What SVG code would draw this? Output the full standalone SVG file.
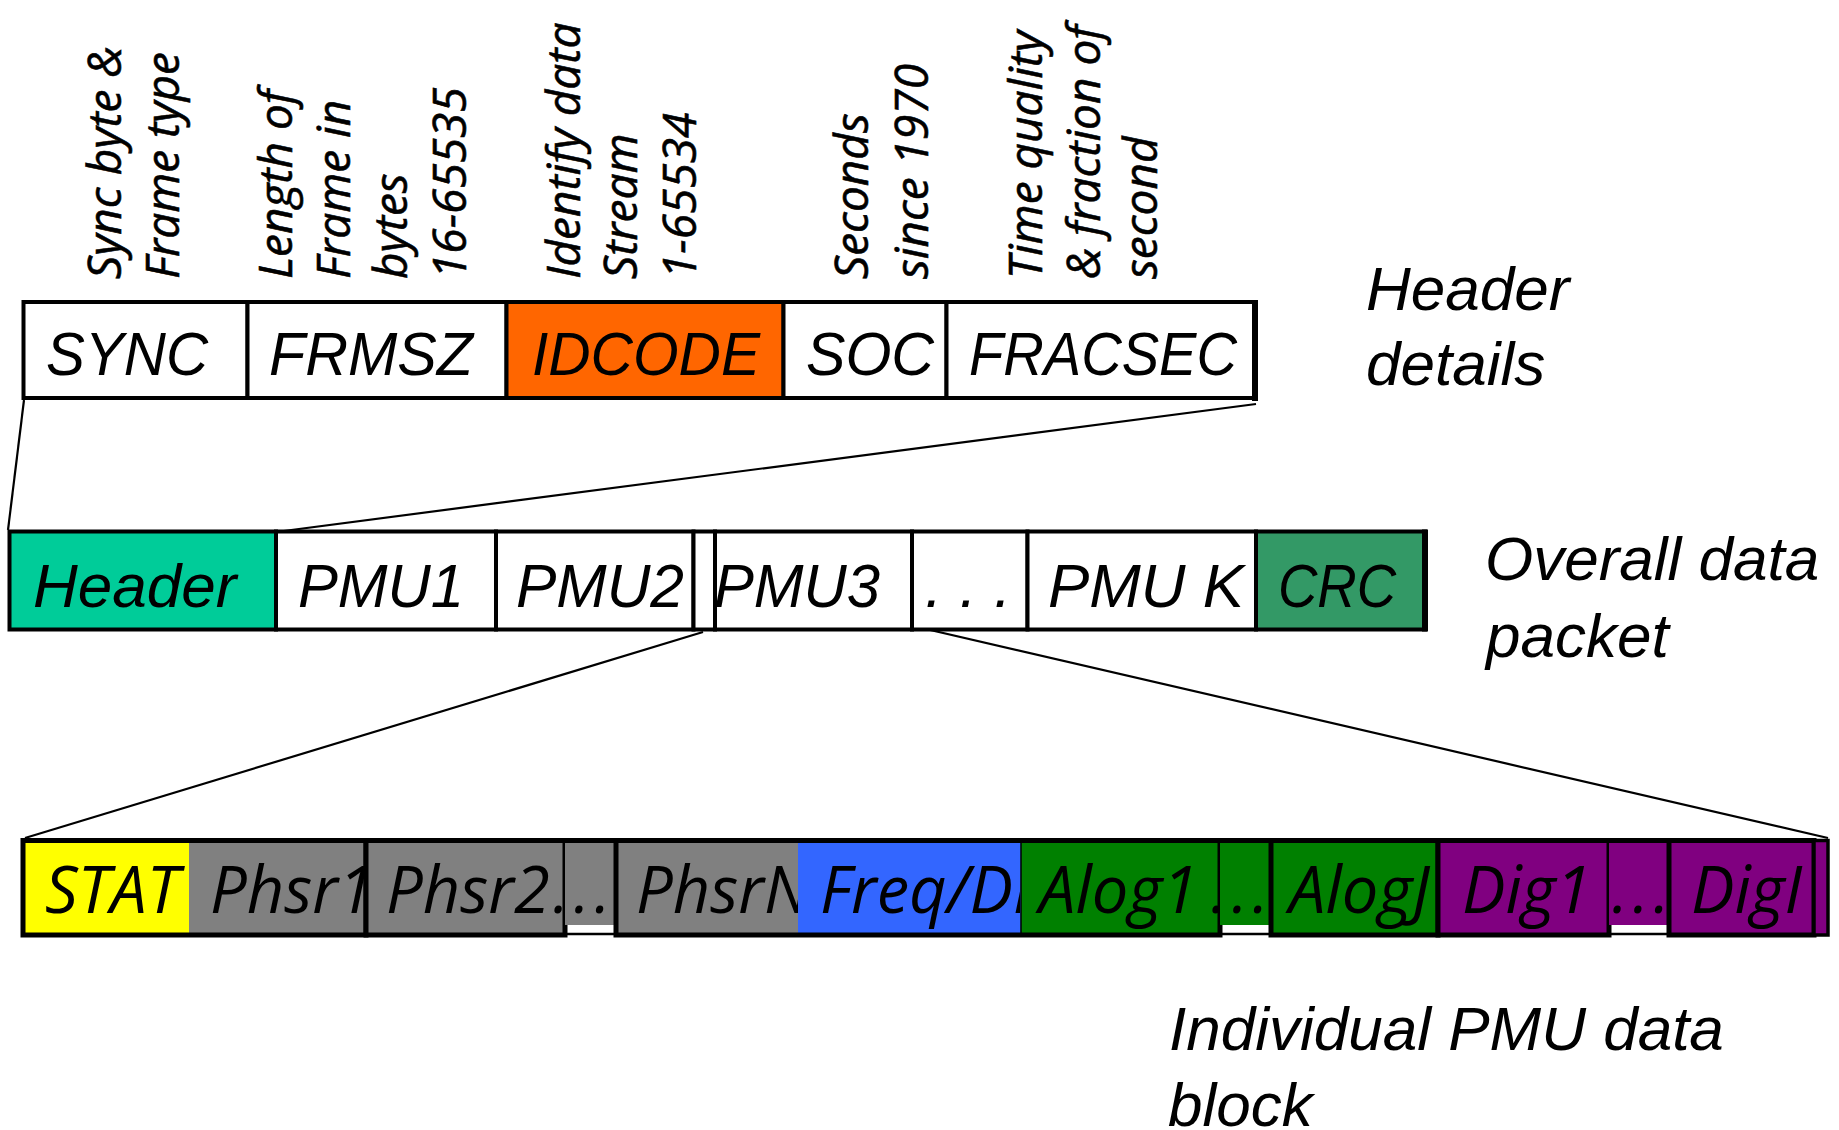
<svg xmlns="http://www.w3.org/2000/svg" width="1839" height="1130" viewBox="0 0 1839 1130">
<defs>
<style>
.lbl{font-family:"Liberation Sans",Arial,sans-serif;font-style:italic;font-size:62px;fill:#000}
.rot{font-family:"Open Sans","DejaVu Sans",sans-serif;font-style:italic;font-size:46px;fill:#000;stroke:#000;stroke-width:0.6px}
.cell{font-family:"Open Sans","DejaVu Sans",sans-serif;font-style:italic;font-size:65px;fill:#000}
.dots{font-family:"Open Sans","DejaVu Sans",sans-serif;font-style:italic;font-size:63px;fill:#000;letter-spacing:5px}
.box{stroke:#000;stroke-width:4}
.frame{stroke:#000;stroke-width:5}
.conn{stroke:#000;stroke-width:2.2;fill:none}
</style>
<clipPath id="cpPhsr1"><rect x="188" y="843" width="176" height="90"/></clipPath>
<clipPath id="cpPhsrN"><rect x="616" y="843" width="182" height="90"/></clipPath>
<clipPath id="cpFreq"><rect x="798" y="843" width="222" height="90"/></clipPath>
<clipPath id="cpAlogJ"><rect x="1271" y="843" width="166" height="90"/></clipPath>
<clipPath id="cpDigI"><rect x="1669" y="843" width="144" height="90"/></clipPath>
</defs>
<rect x="0" y="0" width="1839" height="1130" fill="#fff"/>

<!-- rotated descriptions -->
<g id="desc-sync">
<text class="rot" transform="translate(120.5,279) rotate(-90)">Sync byte &amp;</text>
<text class="rot" transform="translate(178.6,279) rotate(-90)">Frame type</text>
</g>
<g id="desc-frmsz">
<text class="rot" transform="translate(292,279) rotate(-90)">Length of</text>
<text class="rot" transform="translate(350,279) rotate(-90)">Frame in</text>
<text class="rot" transform="translate(407,279) rotate(-90)">bytes</text>
<text class="rot" transform="translate(466,279) rotate(-90)">16-65535</text>
</g>
<g id="desc-idcode">
<text class="rot" transform="translate(580,279) rotate(-90)">Identify data</text>
<text class="rot" transform="translate(637,279) rotate(-90)">Stream</text>
<text class="rot" transform="translate(696,279) rotate(-90)">1-65534</text>
</g>
<g id="desc-soc">
<text class="rot" transform="translate(868,279) rotate(-90)">Seconds</text>
<text class="rot" transform="translate(928,279) rotate(-90)">since 1970</text>
</g>
<g id="desc-fracsec">
<text class="rot" transform="translate(1042,279) rotate(-90)">Time quality</text>
<text class="rot" transform="translate(1100,279) rotate(-90)">&amp; fraction of</text>
<text class="rot" transform="translate(1157,279) rotate(-90)">second</text>
</g>

<!-- connectors -->
<g id="connectors">
<line class="conn" x1="24" y1="400" x2="8" y2="530"/>
<line class="conn" x1="1256" y1="404" x2="276" y2="532"/>
<line class="conn" x1="703" y1="632" x2="25" y2="838"/>
<line class="conn" x1="913" y1="626" x2="1828" y2="838"/>
</g>

<!-- header details row -->
<g id="sync"><rect class="box" x="23.5" y="302" width="224" height="96" fill="#fff"/><text class="lbl" x="46" y="375" textLength="162" lengthAdjust="spacingAndGlyphs">SYNC</text></g>
<g id="frmsz"><rect class="box" x="247.5" y="302" width="259" height="96" fill="#fff"/><text class="lbl" x="269" y="375" textLength="204" lengthAdjust="spacingAndGlyphs">FRMSZ</text></g>
<g id="idcode"><rect class="box" x="506.5" y="302" width="277" height="96" fill="#FF6600"/><text class="lbl" x="532" y="375" textLength="228" lengthAdjust="spacingAndGlyphs">IDCODE</text></g>
<g id="soc"><rect class="box" x="783.5" y="302" width="163" height="96" fill="#fff"/><text class="lbl" x="806" y="375" textLength="128" lengthAdjust="spacingAndGlyphs">SOC</text></g>
<g id="fracsec"><rect class="box" x="946.5" y="302" width="309" height="96" fill="#fff"/><text class="lbl" x="969" y="375" textLength="268" lengthAdjust="spacingAndGlyphs">FRACSEC</text><line x1="1255" y1="300" x2="1255" y2="401" stroke="#000" stroke-width="6"/></g>

<!-- overall packet row -->
<g id="header"><rect class="box" x="9.5" y="531.5" width="266.5" height="98" fill="#00CC99"/><text class="lbl" x="33" y="607">Header</text></g>
<g id="pmu1"><rect class="box" x="276" y="531.5" width="220" height="98" fill="#fff"/><text class="lbl" x="298" y="607" textLength="166" lengthAdjust="spacingAndGlyphs">PMU1</text></g>
<g id="pmu2"><rect class="box" x="496" y="531.5" width="197.5" height="98" fill="#fff"/><text class="lbl" x="516" y="607" textLength="168" lengthAdjust="spacingAndGlyphs">PMU2</text></g>
<g id="pmu-blank"><rect class="box" x="693.5" y="531.5" width="21.5" height="98" fill="#fff"/></g>
<g id="pmu3"><rect class="box" x="715" y="531.5" width="197" height="98" fill="#fff"/><text class="lbl" x="714" y="607" textLength="166" lengthAdjust="spacingAndGlyphs">PMU3</text></g>
<g id="pmu-dots"><rect class="box" x="912" y="531.5" width="115.5" height="98" fill="#fff"/><text class="lbl" x="925" y="607">. . .</text></g>
<g id="pmuk"><rect class="box" x="1027.5" y="531.5" width="228.5" height="98" fill="#fff"/><text class="lbl" x="1048" y="607" textLength="196" lengthAdjust="spacingAndGlyphs">PMU K</text></g>
<g id="crc"><rect class="box" x="1256" y="531.5" width="169" height="98" fill="#339966"/><text class="lbl" x="1278" y="607" textLength="118" lengthAdjust="spacingAndGlyphs">CRC</text><line x1="1425" y1="529.5" x2="1425" y2="631.5" stroke="#000" stroke-width="6"/></g>

<!-- individual PMU block row -->
<g id="stat"><rect x="23" y="840.5" width="166" height="94.5" fill="#FFFF00"/><text class="cell" x="45" y="913">STAT</text></g>
<g id="phsr1"><rect x="189" y="840.5" width="177" height="94.5" fill="#808080"/><text class="cell" x="210" y="913" clip-path="url(#cpPhsr1)">Phsr1</text><rect class="frame" x="23" y="840.5" width="343" height="94.5" fill="none"/></g>
<g id="phsr2"><rect class="frame" x="366" y="840.5" width="199" height="94.5" fill="#808080"/><text class="cell" x="386" y="913">Phsr2</text></g>
<g id="gap-phsr"><rect x="565" y="843" width="51" height="82" fill="#808080"/><line x1="565" y1="934" x2="616" y2="934" stroke="#000" stroke-width="2.5"/><line x1="565" y1="840.5" x2="616" y2="840.5" stroke="#000" stroke-width="5"/><text class="dots" x="553" y="913">...</text></g>
<g id="phsrn"><rect x="616" y="840.5" width="182" height="94.5" fill="#808080"/><text class="cell" x="636" y="913" clip-path="url(#cpPhsrN)">PhsrN</text></g>
<g id="freq"><rect x="798" y="840.5" width="223" height="94.5" fill="#3366FF"/><text class="cell" x="820" y="913" clip-path="url(#cpFreq)">Freq/DFreq</text></g>
<g id="alog1"><rect x="1021" y="840.5" width="199" height="94.5" fill="#008000"/><line x1="1021" y1="843" x2="1021" y2="933" stroke="#000" stroke-width="1.5"/><text class="cell" x="1039" y="913">Alog1</text><rect class="frame" x="616" y="840.5" width="604" height="94.5" fill="none"/></g>
<g id="gap-alog"><rect x="1220" y="843" width="51" height="82" fill="#008000"/><line x1="1220" y1="934" x2="1271" y2="934" stroke="#000" stroke-width="2.5"/><line x1="1220" y1="840.5" x2="1271" y2="840.5" stroke="#000" stroke-width="5"/><text class="dots" x="1211" y="913">...</text></g>
<g id="alogj"><rect class="frame" x="1271" y="840.5" width="167" height="94.5" fill="#008000"/><text class="cell" x="1289" y="913" clip-path="url(#cpAlogJ)">AlogJ</text></g>
<g id="dig1"><rect class="frame" x="1438" y="840.5" width="171" height="94.5" fill="#800080"/><text class="cell" x="1462" y="913">Dig1</text></g>
<g id="gap-dig"><rect x="1609" y="843" width="60" height="82" fill="#800080"/><line x1="1609" y1="934" x2="1669" y2="934" stroke="#000" stroke-width="2.5"/><line x1="1609" y1="840.5" x2="1669" y2="840.5" stroke="#000" stroke-width="5"/><text class="dots" x="1612" y="913">...</text></g>
<g id="digi"><rect class="frame" x="1669" y="840.5" width="145" height="94.5" fill="#800080"/><text class="cell" x="1691" y="913" clip-path="url(#cpDigI)">DigI</text></g>
<g id="dig-strip"><rect x="1814" y="840.5" width="14" height="94.5" fill="#800080" stroke="#000" stroke-width="3.5"/></g>

<!-- side labels -->
<g id="label-header-details">
<text class="lbl" x="1366" y="310">Header</text>
<text class="lbl" x="1366" y="385">details</text>
</g>
<g id="label-overall">
<text class="lbl" x="1485" y="580">Overall data</text>
<text class="lbl" x="1486" y="657">packet</text>
</g>
<g id="label-individual">
<text class="lbl" x="1169" y="1050">Individual PMU data</text>
<text class="lbl" x="1168" y="1126">block</text>
</g>
</svg>
